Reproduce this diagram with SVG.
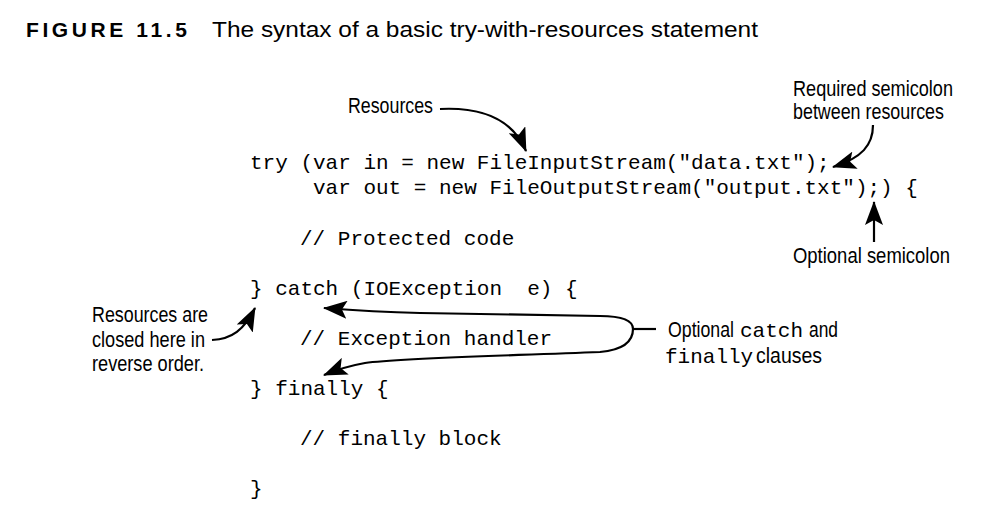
<svg xmlns="http://www.w3.org/2000/svg" width="1008" height="526" viewBox="0 0 1008 526">
<style>
.code{font-family:"Liberation Mono","Courier New",monospace;font-size:21px;fill:#000;white-space:pre}
.lbl{font-family:"Liberation Sans",Arial,sans-serif;font-size:21.5px;fill:#000}
.mono{font-family:"Liberation Mono","Courier New",monospace;font-size:21px}
.ttl{font-family:"Liberation Sans",Arial,sans-serif;fill:#000}
.arr{fill:none;stroke:#000;stroke-width:2.2;marker-end:url(#ah)}
</style>
<defs>
<marker id="ah" viewBox="0 0 24 18" refX="23" refY="9" markerWidth="24" markerHeight="18" markerUnits="userSpaceOnUse" orient="auto">
<path d="M0,0 L24,9 L0,18 L5,9 Z" fill="#000"/>
</marker>
</defs>
<rect width="1008" height="526" fill="#fff"/>
<g id="title">
<text class="ttl" x="26" y="37" font-size="21" font-weight="bold" letter-spacing="3.6">FIGURE 11.5</text>
<text class="ttl" x="212" y="37" font-size="22" textLength="546" lengthAdjust="spacingAndGlyphs">The syntax of a basic try-with-resources statement</text>
</g>
<g id="code">
<text class="code" x="250" y="169">try (var in = new FileInputStream("data.txt");</text>
<text class="code" x="313" y="194">var out = new FileOutputStream("output.txt");) {</text>
<text class="code" x="300" y="245">// Protected code</text>
<text class="code" x="250" y="295" xml:space="preserve">} catch (IOException  e) {</text>
<text class="code" x="300" y="345">// Exception handler</text>
<text class="code" x="250" y="395">} finally {</text>
<text class="code" x="300" y="445">// finally block</text>
<text class="code" x="250" y="495">}</text>
</g>
<g id="label-resources">
<text class="lbl" x="348" y="113" textLength="85" lengthAdjust="spacingAndGlyphs">Resources</text>
</g>
<g id="label-required">
<text class="lbl" x="793" y="96" textLength="160" lengthAdjust="spacingAndGlyphs">Required semicolon</text>
<text class="lbl" x="793" y="119" textLength="151" lengthAdjust="spacingAndGlyphs">between resources</text>
</g>
<g id="label-optional-semicolon">
<text class="lbl" x="793" y="263" textLength="157" lengthAdjust="spacingAndGlyphs">Optional semicolon</text>
</g>
<g id="label-closed">
<text class="lbl" x="92" y="322" textLength="116" lengthAdjust="spacingAndGlyphs">Resources are</text>
<text class="lbl" x="92" y="347" textLength="113" lengthAdjust="spacingAndGlyphs">closed here in</text>
<text class="lbl" x="92" y="371" textLength="112" lengthAdjust="spacingAndGlyphs">reverse order.</text>
</g>
<g id="label-optional-clauses">
<text class="lbl" y="337"><tspan x="668" textLength="66" lengthAdjust="spacingAndGlyphs">Optional</tspan><tspan class="mono" x="740">catch</tspan><tspan x="809" textLength="29" lengthAdjust="spacingAndGlyphs">and</tspan></text>
<text class="lbl" y="363"><tspan class="mono" x="665">finally</tspan><tspan x="756" textLength="66" lengthAdjust="spacingAndGlyphs">clauses</tspan></text>
</g>
<g id="connectors">
<path class="arr" d="M440,109 C480,107 512,118 526,151"/>
<path class="arr" d="M873,125 C873,145 862,158 833,167"/>
<path class="arr" d="M874,242 L874,202"/>
<path class="arr" d="M212,340 C232,339 244,330 255,308"/>
<path fill="none" stroke="#000" stroke-width="2.2" d="M656,329 L633,329"/>
<path class="arr" d="M633,329 C633,320 622,316 600,316 L420,313 C380,312 350,310 324,308"/>
<path class="arr" d="M633,329 C633,342 622,350 600,352 C500,356 400,358 365,363 C348,366 336,370 324,375"/>
</g>
</svg>
